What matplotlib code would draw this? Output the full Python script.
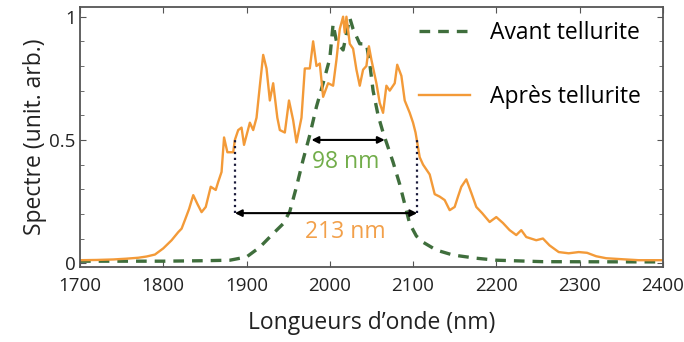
import matplotlib.pyplot as plt
from matplotlib.ticker import MultipleLocator

plt.rcParams['font.family'] = ['Open Sans', 'DejaVu Sans']

# spectre apres tellurite (orange)
x_apres = [1700, 1720, 1740, 1755, 1770, 1780, 1790, 1800, 1810, 1818, 1822, 1826,
           1831, 1836, 1841, 1846, 1851, 1857, 1863, 1866, 1870, 1873, 1877, 1884,
           1886, 1890, 1894, 1897, 1904, 1908, 1912, 1916, 1920, 1924, 1928, 1932,
           1937, 1940, 1946, 1951, 1956, 1960, 1966, 1970, 1976, 1980, 1984, 1988,
           1992, 1998, 2004, 2008, 2012, 2016, 2018, 2020, 2024, 2028, 2032, 2036,
           2040, 2044, 2047, 2050, 2056, 2060, 2064, 2068, 2072, 2078, 2081, 2086,
           2090, 2096, 2100, 2103, 2108, 2112, 2116, 2120, 2126, 2132, 2138, 2144,
           2150, 2154, 2158, 2164, 2170, 2176, 2183, 2192, 2200, 2208, 2216, 2224,
           2230, 2236, 2248, 2256, 2264, 2275, 2287, 2299, 2309, 2320, 2332, 2351,
           2371, 2400]
y_apres = [0.012, 0.013, 0.015, 0.018, 0.022, 0.027, 0.035, 0.06, 0.093, 0.126, 0.14, 0.175,
           0.22, 0.276, 0.24, 0.207, 0.228, 0.31, 0.297, 0.33, 0.37, 0.51, 0.45, 0.45,
           0.50, 0.54, 0.55, 0.48, 0.57, 0.54, 0.59, 0.72, 0.845, 0.79, 0.66, 0.73,
           0.59, 0.54, 0.53, 0.66, 0.58, 0.49, 0.59, 0.79, 0.79, 0.90, 0.80, 0.81,
           0.675, 0.73, 0.72, 0.825, 0.95, 1.0, 0.935, 1.0, 0.89, 0.87, 0.785, 0.72,
           0.785, 0.80, 0.88, 0.825, 0.73, 0.65, 0.61, 0.72, 0.70, 0.73, 0.805, 0.76,
           0.66, 0.61, 0.57, 0.53, 0.43, 0.40, 0.38, 0.36, 0.28, 0.27, 0.256, 0.215,
           0.228, 0.27, 0.31, 0.34, 0.285, 0.228, 0.203, 0.167, 0.187, 0.163, 0.134, 0.114,
           0.134, 0.106, 0.093, 0.10, 0.072, 0.045, 0.04, 0.045, 0.042, 0.028, 0.02, 0.016,
           0.012, 0.012]

# spectre avant tellurite (vert)
x_avant = [1700, 1750, 1800, 1850, 1880, 1900, 1916, 1932, 1944, 1952, 1960, 1968,
           1976, 1984, 1992, 2000, 2004, 2008, 2016, 2024, 2028, 2036, 2044, 2048,
           2052, 2058, 2064, 2068, 2076, 2084, 2090, 2096, 2104, 2112, 2128, 2148,
           2176, 2200, 2256, 2400]
y_avant = [0.008, 0.008, 0.008, 0.01, 0.012, 0.025, 0.065, 0.12, 0.16, 0.21, 0.31, 0.42,
           0.52, 0.635, 0.73, 0.83, 0.97, 0.90, 0.865, 0.995, 0.95, 0.89, 0.89, 0.81,
           0.70, 0.60, 0.53, 0.49, 0.41, 0.32, 0.24, 0.16, 0.11, 0.085, 0.053, 0.033,
           0.02, 0.012, 0.006, 0.005]

fwhm_avant = (1978, 2066, 0.5)
fwhm_apres = (1886, 2105, 0.203)

orange = '#f39a38'
green = '#3f6e3c'

fig = plt.figure(figsize=(6.84, 3.42), dpi=100)
ax = fig.add_axes([0.117, 0.219, 0.852, 0.761])

ax.plot(x_avant, y_avant, color=green, lw=2.4, dashes=(3.2, 2.4), label='Avant tellurite')
ax.plot(x_apres, y_apres, color=orange, lw=1.7, label='Après tellurite')

# largeurs a mi-hauteur
ax.annotate('', xy=(fwhm_avant[0], fwhm_avant[2]), xytext=(fwhm_avant[1], fwhm_avant[2]),
            arrowprops=dict(arrowstyle='<|-|>', color='black', lw=1.5,
                            mutation_scale=10, shrinkA=0, shrinkB=0))
ax.annotate('', xy=(fwhm_apres[0], fwhm_apres[2]), xytext=(fwhm_apres[1], fwhm_apres[2]),
            arrowprops=dict(arrowstyle='<|-|>', color='black', lw=1.5,
                            mutation_scale=10, shrinkA=0, shrinkB=0))
ax.plot([fwhm_apres[0], fwhm_apres[0]], [fwhm_apres[2], 0.51], ls=':', color='#1a1a3a', lw=1.6)
ax.plot([fwhm_apres[1], fwhm_apres[1]], [fwhm_apres[2], 0.50], ls=':', color='#1a1a3a', lw=1.6)
ax.text(2019, 0.41, '98 nm', color='#72ad4a', fontsize=16.5, ha='center', va='center')
ax.text(2019, 0.125, '213 nm', color='#f2a04a', fontsize=16.5, ha='center', va='center')

ax.set_xlim(1700, 2400)
ax.set_ylim(-0.016, 1.04)
ax.set_xticks([1700, 1800, 1900, 2000, 2100, 2200, 2300, 2400])
ax.set_yticks([0, 0.5, 1])
ax.set_yticklabels(['0', '0.5', '1'])
ax.yaxis.set_minor_locator(MultipleLocator(0.1))
ax.tick_params(which='both', direction='in', top=True, right=True, color='#555555',
               labelsize=13.5, labelcolor='#222222')
ax.tick_params(axis='x', pad=7)
ax.tick_params(axis='y', pad=3)
ax.tick_params(which='major', length=4)
ax.tick_params(which='minor', length=3)
for s in ax.spines.values():
    s.set_color('#555555')
    s.set_linewidth(1.3)

ax.set_xlabel('Longueurs d’onde (nm)', fontsize=16.5, color='#222222', labelpad=12)
ax.set_ylabel('Spectre (unit. arb.)', fontsize=16.5, color='#222222', labelpad=2)

ax.legend(loc='upper right', bbox_to_anchor=(1.0, 1.028), frameon=False, fontsize=16.5,
          handlelength=2.2, labelspacing=1.75, borderaxespad=0.55, handletextpad=0.9)

fig.savefig('out.png', dpi=100)
